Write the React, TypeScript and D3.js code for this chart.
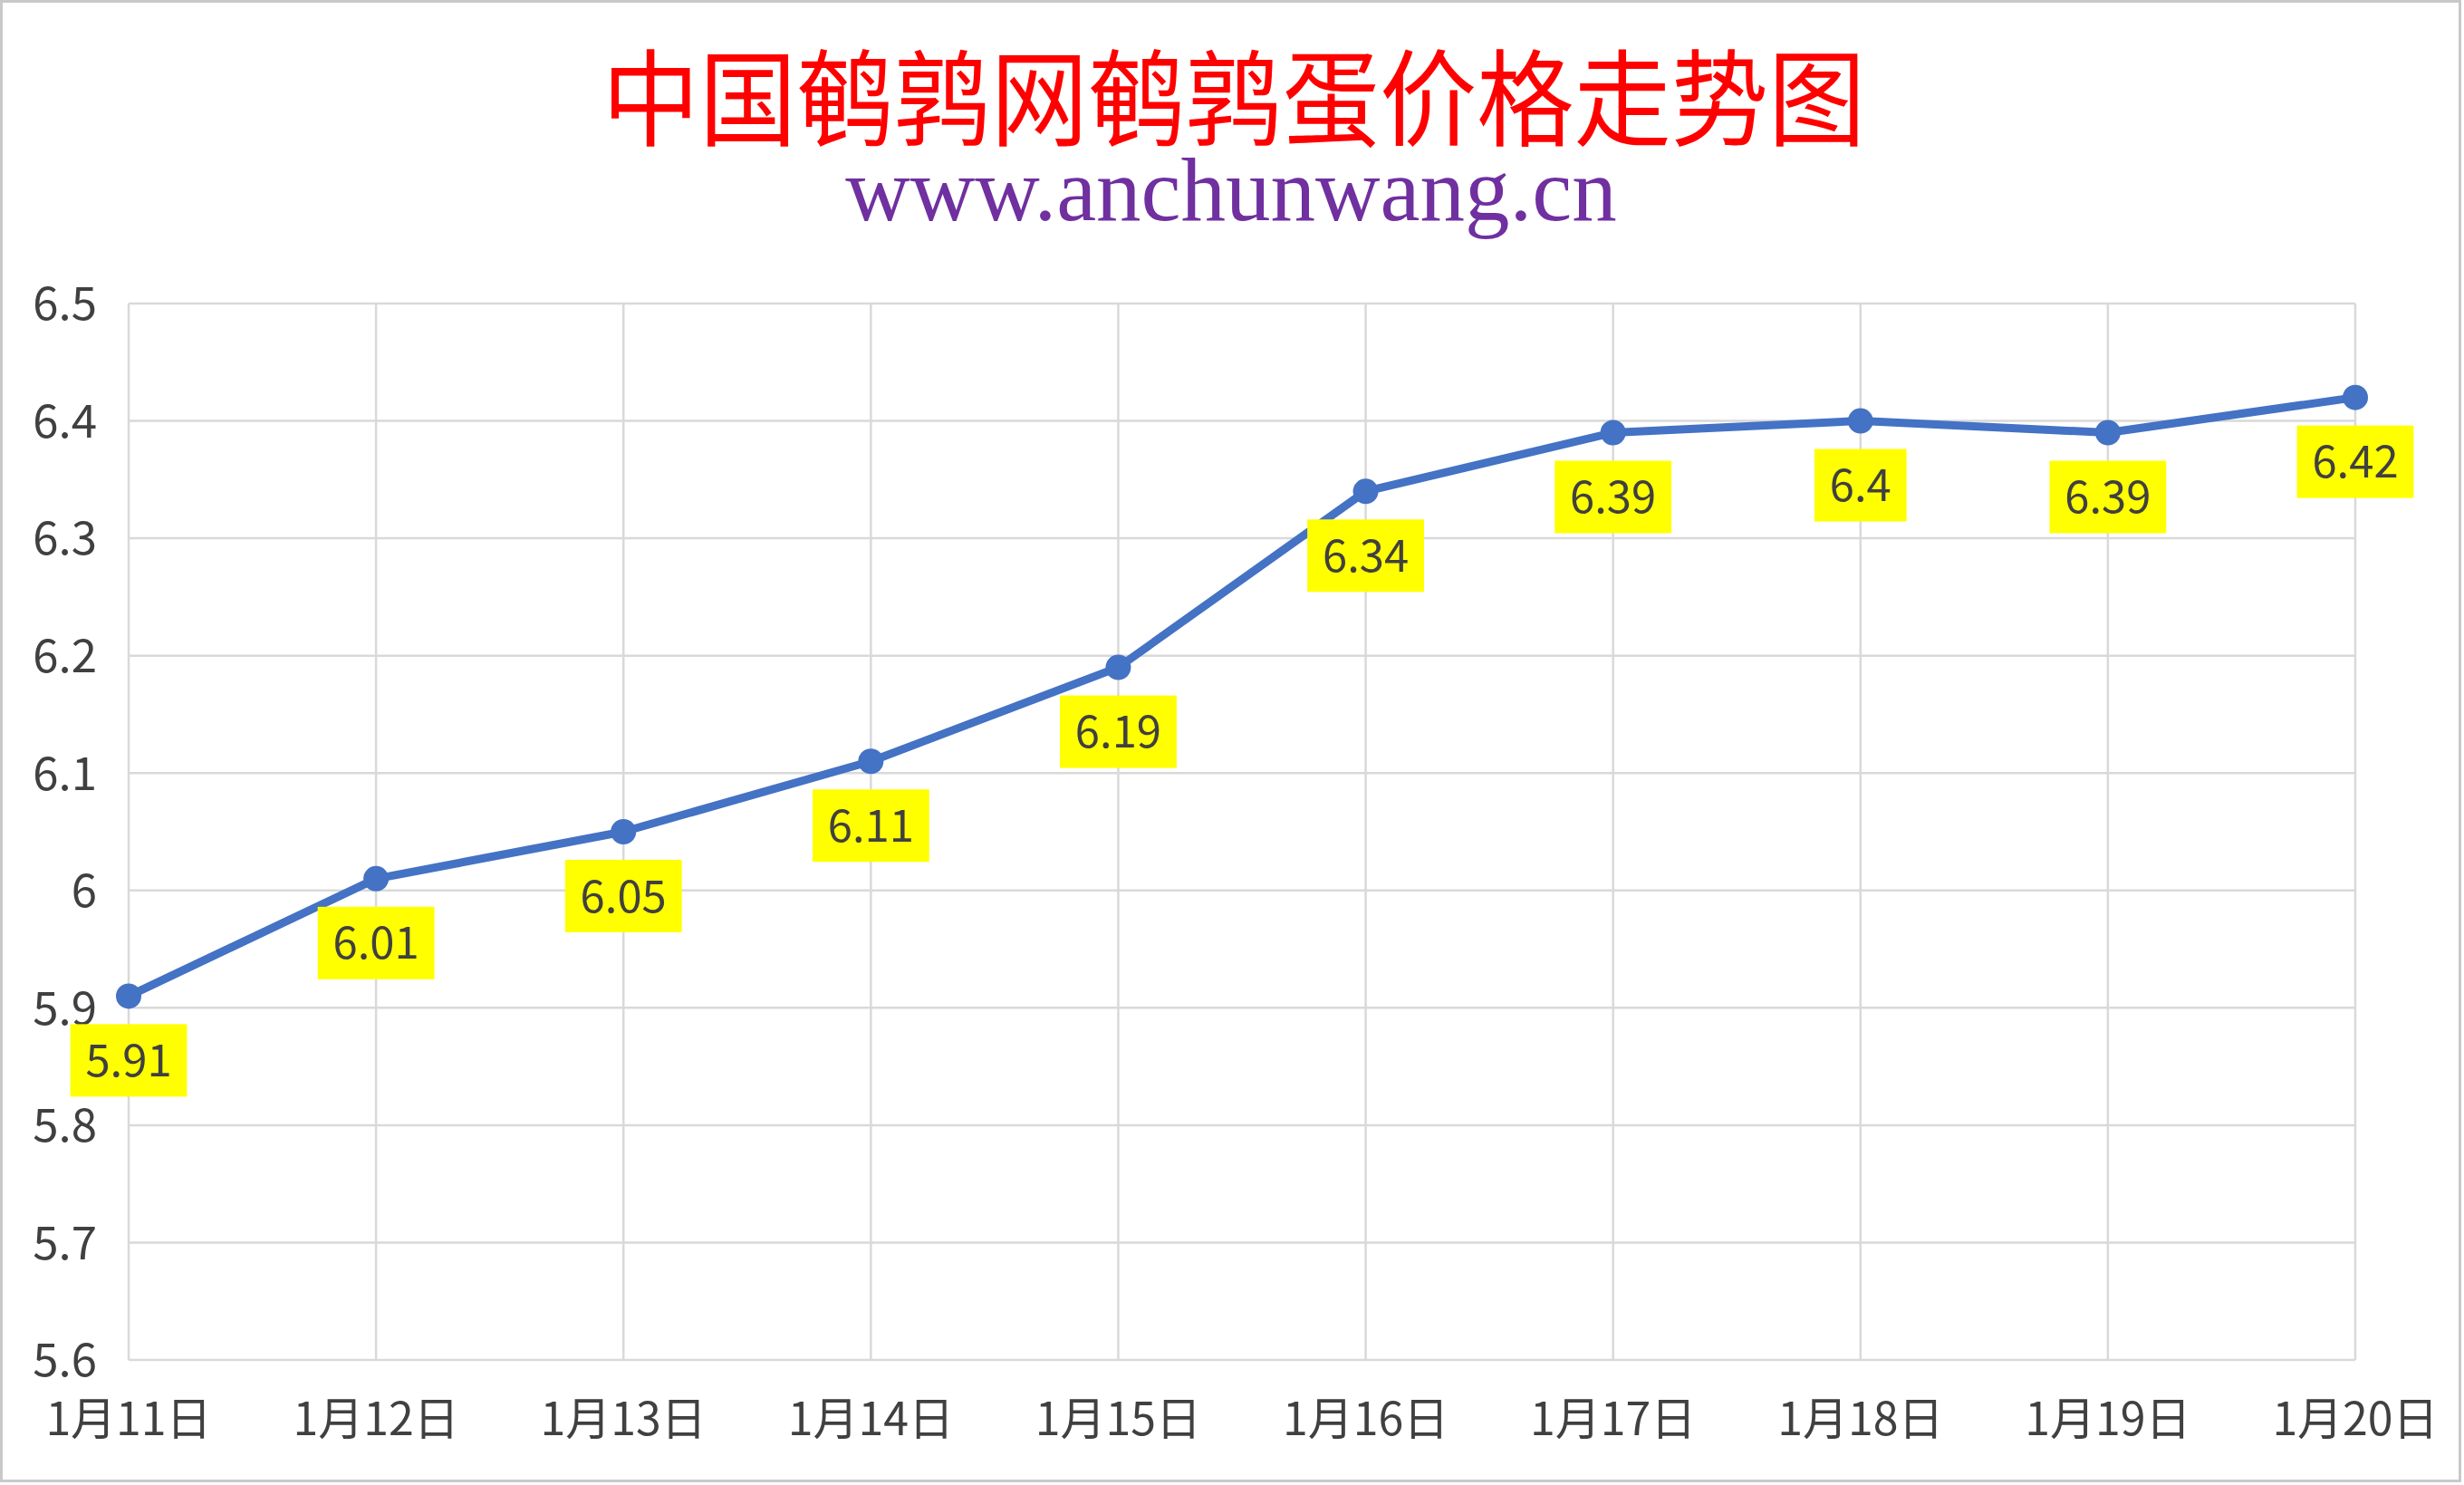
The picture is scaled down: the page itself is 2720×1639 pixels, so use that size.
import React from "react";
import * as d3 from "d3";

const categories = ["1月11日", "1月12日", "1月13日", "1月14日", "1月15日", "1月16日", "1月17日", "1月18日", "1月19日", "1月20日"];
const prices = [5.91, 6.01, 6.05, 6.11, 6.19, 6.34, 6.39, 6.4, 6.39, 6.42];
const yTicks = [5.6, 5.7, 5.8, 5.9, 6.0, 6.1, 6.2, 6.3, 6.4, 6.5];
const titleText = "中国鹌鹑网鹌鹑蛋价格走势图";
const subtitleText = "www.anchunwang.cn";

const W = 2720;
const H = 1639;
const plot = { left: 142, right: 2600, top: 335, bottom: 1501 };
const FONT = "'Noto Sans CJK SC', 'Noto Sans', sans-serif";

function textWidth(s: string, size: number) {
  let w = 0;
  for (const ch of s) {
    if (ch === ".") w += 0.27 * size;
    else w += 0.555 * size;
  }
  return w;
}

export default function App() {
  const x = d3.scalePoint<string>().domain(categories).range([plot.left, plot.right]);
  const y = d3.scaleLinear().domain([5.6, 6.5]).range([plot.bottom, plot.top]);
  const line = d3
    .line<number>()
    .x((_, i) => x(categories[i]) as number)
    .y((d) => y(d));
  const fmt = (v: number) => String(+v.toFixed(2));
  const yFmt = (v: number) => String(+v.toFixed(1));
  const labelSize = 49;

  return (
    <svg
      width={W}
      height={H}
      style={{ position: "fixed", left: 0, top: 0, background: "#fff" }}
    >
      <rect x={0} y={0} width={W} height={H} fill="#fff" />
      <rect x={1.5} y={1.5} width={2714} height={1633} fill="none" stroke="#C9C9C9" strokeWidth={3} />

      <g transform="translate(1362,152) scale(0.925,1)">
        <text
          x={0}
          y={0}
          textAnchor="middle"
          fill="#FF0000"
          fontSize={116}
          fontFamily="'Noto Sans CJK SC', serif"
        >
          {titleText}
        </text>
      </g>
      <text
        x={1359}
        y={243}
        textAnchor="middle"
        fill="#7030A0"
        fontSize={99}
        fontFamily="'Liberation Serif', 'DejaVu Serif', serif"
      >
        {subtitleText}
      </text>

      {yTicks.map((t) => (
        <line
          key={"h" + t}
          x1={plot.left}
          x2={plot.right}
          y1={y(t)}
          y2={y(t)}
          stroke="#D9D9D9"
          strokeWidth={2.5}
        />
      ))}
      {categories.map((c) => (
        <line
          key={"v" + c}
          x1={x(c)}
          x2={x(c)}
          y1={plot.top}
          y2={plot.bottom}
          stroke="#D9D9D9"
          strokeWidth={2.5}
        />
      ))}

      {yTicks.map((t) => (
        <text
          key={"yl" + t}
          x={107}
          y={y(t)}
          dy="0.36em"
          textAnchor="end"
          fill="#404040"
          fontSize={51}
          fontFamily={FONT}
        >
          {yFmt(t)}
        </text>
      ))}

      {categories.map((c) => (
        <text
          key={"xl" + c}
          x={x(c)}
          y={1566}
          dy="0.36em"
          textAnchor="middle"
          fill="#404040"
          fontSize={50}
          fontFamily={FONT}
        >
          {c}
        </text>
      ))}

      <path d={line(prices) || ""} fill="none" stroke="#4472C4" strokeWidth={9} strokeLinejoin="round" />
      {prices.map((v, i) => (
        <circle key={"p" + i} cx={x(categories[i])} cy={y(v)} r={14} fill="#4472C4" />
      ))}

      {prices.map((v, i) => {
        const cx = x(categories[i]) as number;
        const cy = y(v) + 71;
        const label = fmt(v);
        const tw = textWidth(label, labelSize);
        const bw = tw + 34;
        const bh = 80;
        return (
          <g key={"lab" + i}>
            <rect x={cx - bw / 2} y={cy - bh / 2} width={bw} height={bh} fill="#FFFF00" />
            <text
              x={cx}
              y={cy}
              dy="0.36em"
              textAnchor="middle"
              fill="#404040"
              fontSize={labelSize}
              fontFamily={FONT}
            >
              {label}
            </text>
          </g>
        );
      })}
    </svg>
  );
}
